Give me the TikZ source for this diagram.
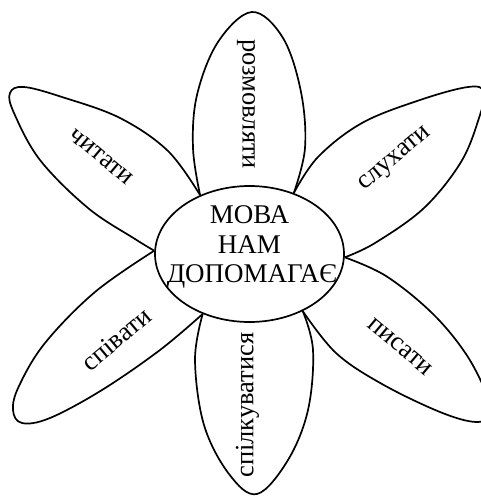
\documentclass[tikz,border=0pt]{standalone}
\usepackage{fontspec}
\setmainfont{Liberation Serif}
\usetikzlibrary{shapes.geometric}
\begin{document}
\begin{tikzpicture}[x=1pt,y=-1pt,
  petal/.style={line width=1.7pt, line join=round},
  ptext/.style={font=\fontsize{26.5}{30}\selectfont, inner sep=0pt, text height=11.9pt, text depth=0pt, anchor=center},
  ctext/.style={font=\fontsize{27}{30}\selectfont, inner sep=0pt, anchor=base}]
\useasboundingbox (0,0) rectangle (481,496);
\clip (0,0) rectangle (481,496);
\node[ellipse, draw, line width=1.7pt, minimum width=189pt, minimum height=136pt, inner sep=0pt] (c) at (249.5,254) {};
% top petal
\draw[petal] plot[smooth, tension=0.6] coordinates {(c.130) (193,148) (197,95) (218,42) (252,12) (283,38) (301,92) (305,148) (c.54)};
% top-left petal
\draw[petal] plot[smooth, tension=0.6] coordinates {(c.130) (168,151) (120,118) (62,97) (24,87) (10,93) (14,113) (40,160) (88,208) (135,239) (c.178)};
% top-right petal
\draw[petal] plot[smooth, tension=0.6] coordinates {(c.54) (318,157) (362,123) (420,100) (468,87) (484,92) (479,118) (461,162) (424,208) (375,243) (c.-2)};
% bottom-right petal
\draw[petal] plot[smooth, tension=0.6] coordinates {(c.-2) (386,276) (432,313) (466,354) (487,395) (490,414) (476,422) (440,412) (382,384) (336,353) (c.-47)};
% bottom petal
\draw[petal] plot[smooth, tension=0.6] coordinates {(c.-47) (313,350) (308,410) (288,460) (257,494) (229,474) (204,425) (195,360) (c.232)};
% bottom-left petal
\draw[petal] plot[smooth, tension=0.6] coordinates {(c.232) (160,350) (102,390) (50,418) (22,423) (13,410) (19,386) (45,343) (95,292) (c.178)};
% texts
\node[ctext] (t1) at (249.5,223) {МОВА};
\node[ctext] (t2) at (249.5,253) {НАМ};
\node[ctext] (t3) at (252,282) {ДОПОМАГАЄ};
\node[ptext, rotate=-90] (p1) at (248.5,104) {розмовляти};
\node[ptext, rotate=40] (p2) at (394,158) {слухати};
\node[ptext, rotate=-40] (p3) at (400,347) {писати};
\node[ptext, rotate=90] (p4) at (247.5,405) {спілкуватися};
\node[ptext, rotate=40] (p5) at (118,341) {співати};
\node[ptext, rotate=-40] (p6) at (101,157) {читати};
\end{tikzpicture}
\end{document}
